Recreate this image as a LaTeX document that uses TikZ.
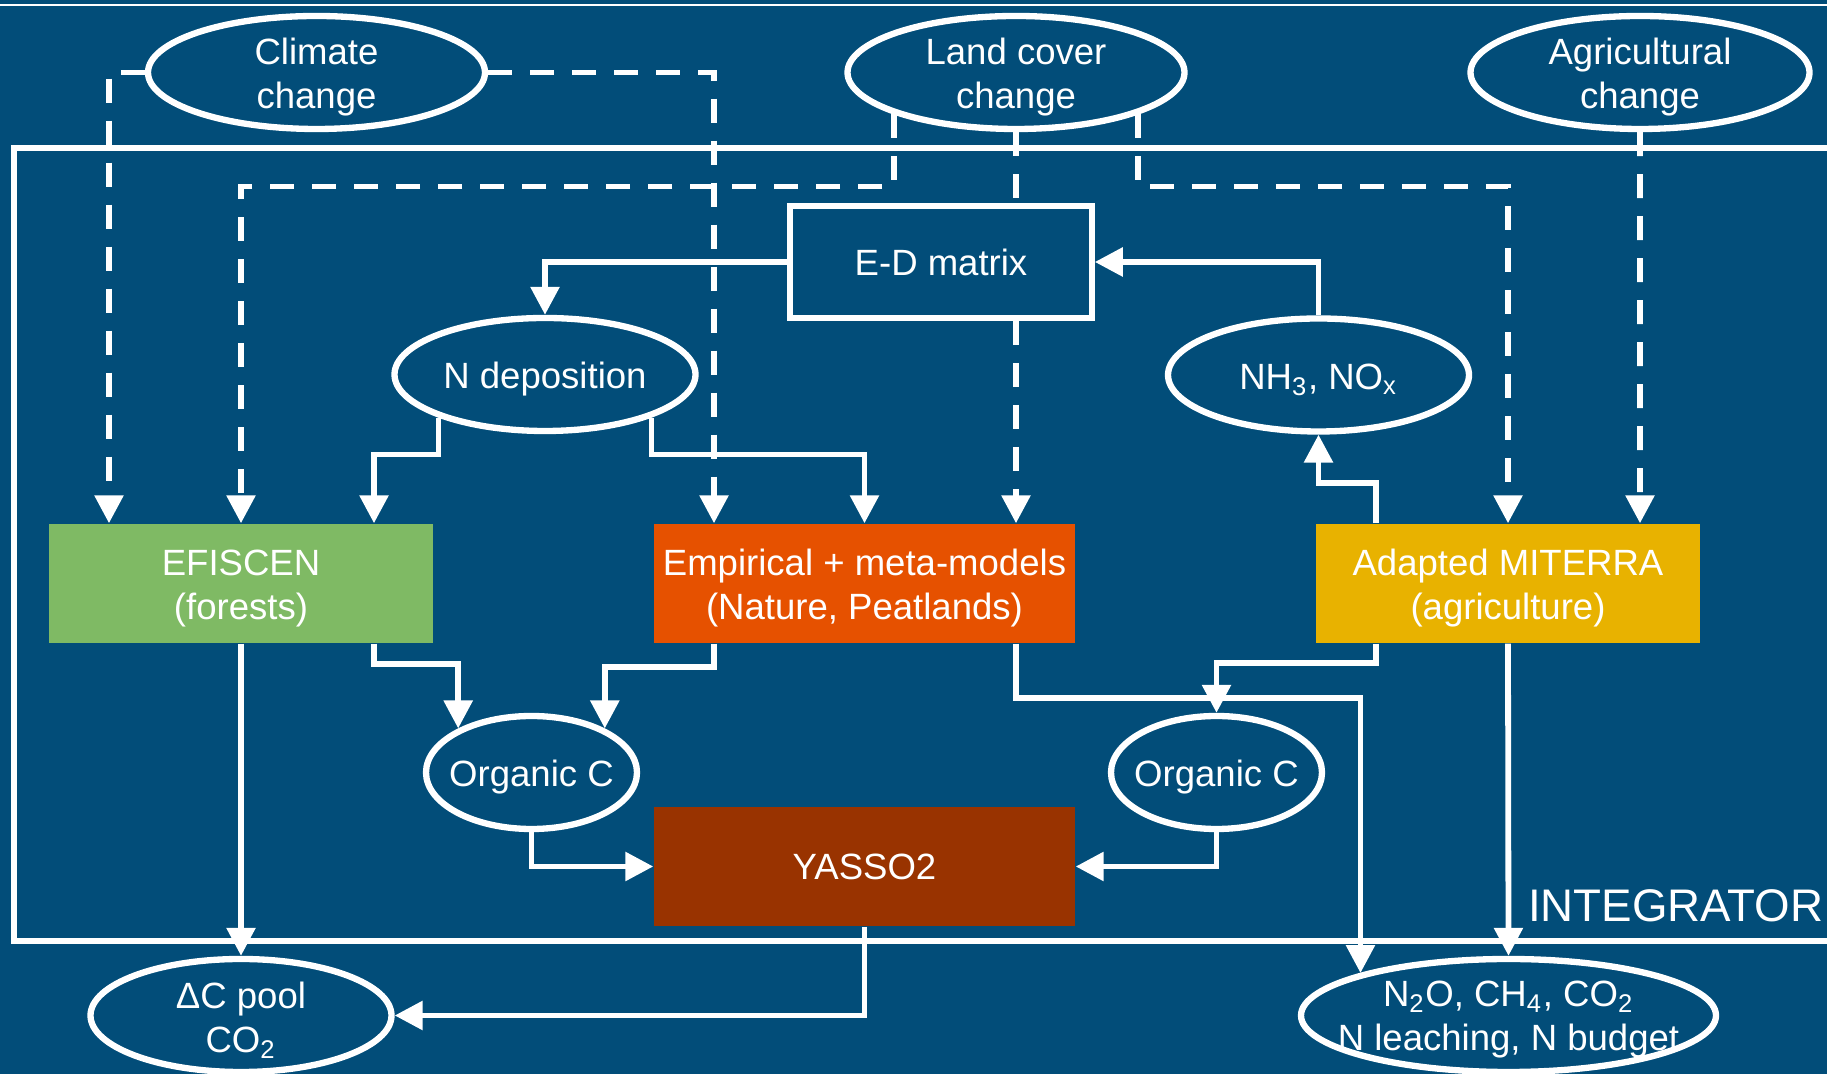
\documentclass[tikz,border=0pt]{standalone}
\usepackage{fontspec}
\setmainfont{Liberation Sans}
\usepackage{xcolor}
\usepackage{tikz}
\usetikzlibrary{arrows.meta,positioning,shapes.geometric}

\definecolor{bgblue}{RGB}{2,77,121}
\definecolor{forestgreen}{RGB}{127,186,100}
\definecolor{natureorange}{RGB}{230,81,0}
\definecolor{agriyellow}{RGB}{232,178,0}
\definecolor{yassobrown}{RGB}{153,51,0}
\newcommand\diagfont{\fontsize{10.4}{12.5}\selectfont}

\begin{document}
\begin{tikzpicture}[
  model/.style={rectangle, inner sep=0pt, minimum height=1.19cm, align=center,
    text=white, font=\diagfont},
  twoline/.style={text height=22.7pt},
  driver/.style={ellipse, draw=white, line width=1.8pt, inner sep=0pt,
    minimum height=1.13cm},
  ovaltext/.style={align=center, text=white, inner sep=0pt, font=\diagfont, yshift=-0.045cm},
  flow/.style={-{Triangle[length=0.28cm, width=0.28cm]}, line width=1.65pt, draw=white},
  scen/.style={flow, dash pattern=on 0.24cm off 0.18cm},
  dline/.style={line width=1.65pt, draw=white, dash pattern=on 0.24cm off 0.18cm}
]
\useasboundingbox (0,0) rectangle (18.27,10.74);
\fill[bgblue] (0,0) rectangle (18.27,10.74);
\draw[white, line width=0.8pt] (0,10.69) -- (18.27,10.69);
\draw[white, line width=1.65pt] (18.27,9.26) -- (0.14,9.26) -- (0.14,1.33) -- (18.27,1.33);
\node[anchor=east, inner sep=0pt, text=white, font=\fontsize{13}{15}\selectfont]
  (integrator) at (18.24,1.68) {INTEGRATOR};

\node[driver, minimum width=3.37cm, label={[ovaltext]center:{Climate\\change}}] (climate) at (3.165,10.015) {};
\node[driver, minimum width=3.37cm, label={[ovaltext]center:{Land cover\\change}}] (land) at (10.16,10.015) {};
\node[driver, minimum width=3.39cm, label={[ovaltext]center:{Agricultural\\change}}] (agri) at (16.40,10.015) {};
\node[model, draw=white, line width=1.6pt, minimum width=3.02cm, minimum height=1.12cm] (ed) at (9.41,8.12) {E-D matrix};
\node[driver, minimum width=3.01cm, label={[ovaltext]center:{N deposition}}] (ndep) at (5.45,6.995) {};
\node[driver, minimum width=3.01cm, label={[ovaltext]center:{NH\textsubscript{3}, NO\textsubscript{x}}}] (nh3) at (13.185,6.99) {};
\node[model, twoline, fill=forestgreen, minimum width=3.84cm] (efiscen) at (2.41,4.905) {EFISCEN\\(forests)};
\node[model, twoline, fill=natureorange, minimum width=4.21cm] (empirical) at (8.645,4.905) {Empirical + meta-models\\(Nature, Peatlands)};
\node[model, twoline, fill=agriyellow, minimum width=3.84cm] (miterra) at (15.08,4.905) {Adapted MITERRA\\(agriculture)};
\node[driver, minimum width=2.11cm, label={[ovaltext]center:{Organic C}}] (orgl) at (5.315,3.015) {};
\node[driver, minimum width=2.11cm, label={[ovaltext]center:{Organic C}}] (orgr) at (12.165,3.015) {};
\node[model, fill=yassobrown, minimum width=4.21cm] (yasso) at (8.645,2.075) {YASSO2};
\node[driver, minimum width=3.01cm, label={[ovaltext]center:{ΔC pool\\CO\textsubscript{2}}}] (dc) at (2.41,0.585) {};
\node[driver, minimum width=4.15cm, label={[ovaltext]center:{N\textsubscript{2}O, CH\textsubscript{4}, CO\textsubscript{2}\\N leaching, N budget}}] (n2o) at (15.085,0.585) {};

\draw[scen] (climate.west) -| ([xshift=-1.32cm]efiscen.north);
\draw[scen] (climate.east) -| ([xshift=-1.505cm]empirical.north);
\draw[scen] (land.199) -- ++(0,-0.72) -| (efiscen.north);
\draw[dline] (land.south) -- (land.south |- ed.north);
\draw[scen] (land.south |- ed.south) -- ([xshift=1.515cm]empirical.north);
\draw[scen] (land.341) -- ++(0,-0.72) -| (miterra.north);
\draw[scen] (agri.south) -- ([xshift=1.32cm]miterra.north);

\draw[flow] (ed.west) -| (ndep.north);
\draw[flow] (nh3.north) |- (ed.east);
\draw[flow] ([xshift=-1.32cm]miterra.north) -- ++(0,0.40) -| (nh3.south);
\draw[flow] (ndep.202) -- ++(0,-0.37) -| ([xshift=1.33cm]efiscen.north);
\draw[flow] (ndep.338) -- ++(0,-0.37) -| (empirical.north);

\draw[flow] ([xshift=1.33cm]efiscen.south) -- ++(0,-0.20) -| (orgl.149);
\draw[flow] ([xshift=-1.505cm]empirical.south) -- ++(0,-0.23) -| (orgl.31);
\draw[flow] ([xshift=1.515cm]empirical.south) -- ++(0,-0.54) -| (n2o.164);
\draw[flow] ([xshift=-1.32cm]miterra.south) -- ++(0,-0.19) -| (orgr.north);
\draw[flow] (miterra.south) -- (n2o.north);
\draw[flow] (efiscen.south) -- (dc.north);
\draw[flow] (orgl.south) |- (yasso.west);
\draw[flow] (orgr.south) |- (yasso.east);
\draw[flow] (yasso.south) |- (dc.east);
\end{tikzpicture}
\end{document}
